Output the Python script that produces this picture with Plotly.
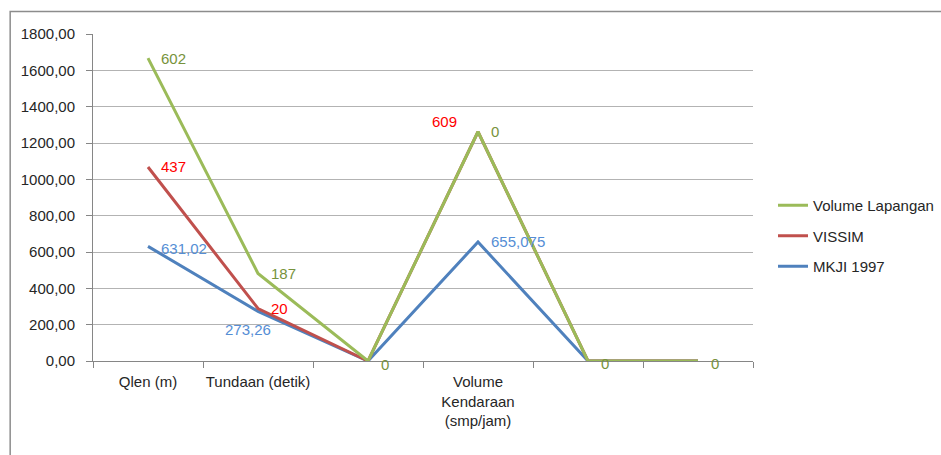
import plotly.graph_objects as go

# Categories on the x axis (blank slots keep their place on the axis)
categories = ["Qlen (m)", "Tundaan (detik)", "", "Volume<br>Kendaraan<br>(smp/jam)", "", ""]

# Series values
volume_lapangan = [1667, 482, 0, 1262, 0, 0]
vissim = [1068, 289, 0, 1262, 0, 0]
mkji_1997 = [631.02, 273.26, 0, 655.075, 0, 0]

# Data-label texts shown next to the points (None = no label)
labels_volume = ["602", "187", "0", "0", "0", "0"]
labels_vissim = ["437", "20", None, "609", None, None]
labels_mkji = ["631,02", "273,26", None, "655,075", None, None]

y_ticks = [0, 200, 400, 600, 800, 1000, 1200, 1400, 1600, 1800]
y_range = [0, 1800]

x_idx = list(range(len(categories)))

GREEN = "#9BBB59"
RED = "#C0504D"
BLUE = "#4F81BD"
GREEN_TXT = "#77933C"
RED_TXT = "#FF0000"
BLUE_TXT = "#558ED5"
FONT = "Liberation Sans"
FSIZE = 15

fig = go.Figure()
series = [
    ("Volume Lapangan", volume_lapangan, GREEN, "y2"),
    ("VISSIM", vissim, RED, "y"),
    ("MKJI 1997", mkji_1997, BLUE, "y"),
]
# draw order: blue first, then red, then green on top (green sits on the overlay axis)
for rank, (name, vals, col, yax) in reversed(list(enumerate(series))):
    fig.add_trace(go.Scatter(
        x=x_idx, y=vals, mode="lines", name=name, yaxis=yax,
        line=dict(color=col, width=3), legendrank=rank + 1,
        legendgroup=name,
    ))

# label placement per series: (xanchor, yanchor, xshift, yshift) for each point
def add_labels(vals, texts, color, place):
    for i, (v, t) in enumerate(zip(vals, texts)):
        if t is None:
            continue
        xa, ya, xs, ys = place.get(i, ("left", "middle", 11, 0))
        fig.add_annotation(
            x=i, y=v, text=t, showarrow=False,
            xanchor=xa, yanchor=ya, xshift=xs, yshift=ys,
            font=dict(family=FONT, size=FSIZE, color=color),
        )

add_labels(volume_lapangan, labels_volume, GREEN_TXT,
           {2: ("left", "middle", 11, -3), 4: ("left", "middle", 11, -2), 5: ("left", "middle", 11, -2)})
add_labels(vissim, labels_vissim, RED_TXT, {3: ("right", "middle", -19, 10)})
add_labels(mkji_1997, labels_mkji, BLUE_TXT,
           {0: ("left", "middle", 11, -2), 1: ("center", "top", -10, -8), 3: ("left", "middle", 11, 0)})

# outer chart border
fig.add_shape(type="rect", xref="paper", yref="paper",
              x0=-0.1255, x1=1.32, y0=-0.32, y1=1.0685,
              line=dict(color="#8C8C8C", width=1.5), fillcolor="rgba(0,0,0,0)", layer="below")

fig.update_layout(
    width=941, height=455,
    margin=dict(l=93, r=188, t=34, b=94),
    paper_bgcolor="white", plot_bgcolor="white",
    separators=",.",
    font=dict(family=FONT, size=FSIZE, color="#262626"),
    showlegend=True,
    legend=dict(xref="container", yref="container",
                x=773 / 941, y=1 - 236 / 455, xanchor="left", yanchor="middle",
                font=dict(family=FONT, size=FSIZE, color="#262626"),
                tracegroupgap=8, itemwidth=30,
                bgcolor="rgba(0,0,0,0)"),
    xaxis=dict(
        range=[-0.5, len(categories) - 0.5],
        tickvals=x_idx, ticktext=categories, ticks="",
        ticklabelstandoff=7,
        showgrid=False, zeroline=False,
        showline=True, linecolor="#868686", linewidth=1,
        tickfont=dict(family=FONT, size=FSIZE, color="#262626"),
        minor=dict(tickvals=[i - 0.5 for i in range(len(categories) + 1)],
                   ticks="outside", ticklen=6, tickcolor="#868686", showgrid=False),
    ),
    # value axis: gridlines, axis line and short tick marks
    yaxis=dict(
        range=y_range, tickvals=y_ticks, showticklabels=False,
        ticks="outside", ticklen=6, tickcolor="#868686",
        showgrid=True, gridcolor="#B3B3B3", gridwidth=1,
        zeroline=False, showline=True, linecolor="#868686", linewidth=1,
    ),
    # overlay on the same scale carrying the tick labels, set a little further out
    yaxis2=dict(
        overlaying="y", side="left", anchor="x",
        range=y_range, tickvals=y_ticks, tickformat=".2f",
        ticks="outside", ticklen=14, tickcolor="rgba(0,0,0,0)",
        showgrid=False, zeroline=False, showline=False,
        tickfont=dict(family=FONT, size=FSIZE, color="#262626"),
    ),
)

fig.write_html("out.html")
